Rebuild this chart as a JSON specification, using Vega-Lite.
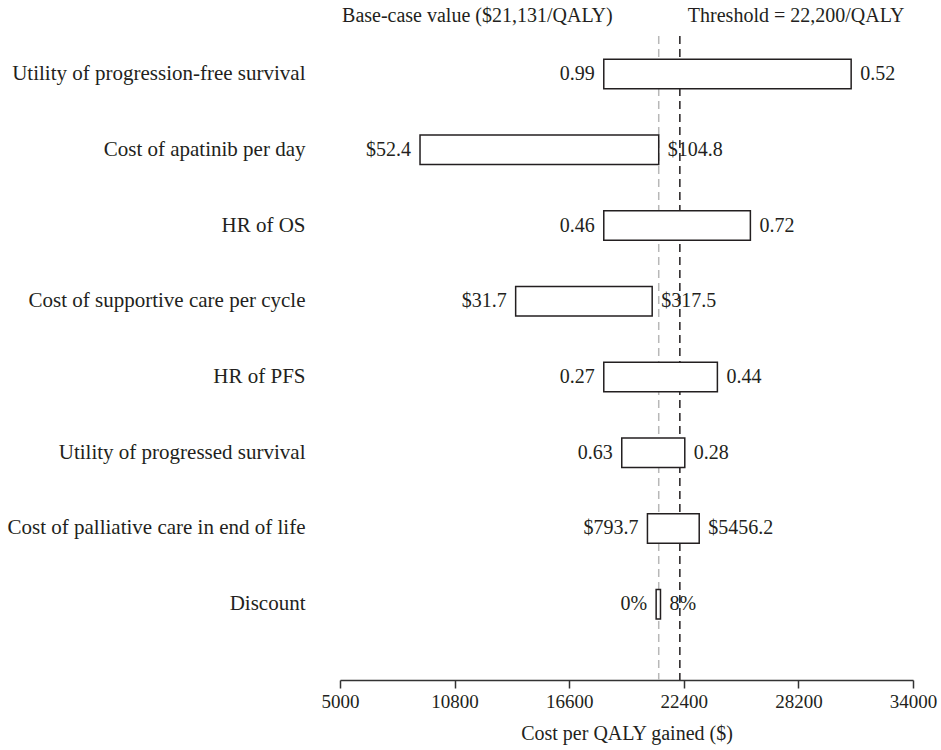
{
  "$schema": "https://vega.github.io/schema/vega-lite/v6.json",
  "width": 573,
  "height": 644,
  "autosize": {"type": "none"},
  "padding": {"left": 340, "top": 36, "right": 28, "bottom": 70},
  "background": "white",
  "config": {
    "view": {"stroke": null},
    "font": "Liberation Serif",
    "text": {"font": "Liberation Serif", "fontSize": 20, "color": "#231f20"},
    "axis": {"labelFont": "Liberation Serif", "titleFont": "Liberation Serif", "labelColor": "#231f20", "titleColor": "#231f20", "titleFontWeight": "normal"}
  },
  "datasets": {
    "params": [
      {"param": "Utility of progression-free survival", "low": 18350, "high": 30870, "lowLabel": "0.99", "highLabel": "0.52"},
      {"param": "Cost of apatinib per day", "low": 9050, "high": 21131, "lowLabel": "$52.4", "highLabel": "$104.8"},
      {"param": "HR of OS", "low": 18350, "high": 25770, "lowLabel": "0.46", "highLabel": "0.72"},
      {"param": "Cost of supportive care per cycle", "low": 13890, "high": 20800, "lowLabel": "$31.7", "highLabel": "$317.5"},
      {"param": "HR of PFS", "low": 18350, "high": 24100, "lowLabel": "0.27", "highLabel": "0.44"},
      {"param": "Utility of progressed survival", "low": 19260, "high": 22450, "lowLabel": "0.63", "highLabel": "0.28"},
      {"param": "Cost of palliative care in end of life", "low": 20560, "high": 23180, "lowLabel": "$793.7", "highLabel": "$5456.2"},
      {"param": "Discount", "low": 21000, "high": 21220, "lowLabel": "0%", "highLabel": "8%"}
    ],
    "refs": [
      {"kind": "base", "value": 21131, "label": "Base-case value ($21,131/QALY)"},
      {"kind": "threshold", "value": 22200, "label": "Threshold = 22,200/QALY"}
    ]
  },
  "layer": [
    {
      "data": {"name": "params"},
      "mark": {"type": "text", "align": "right", "baseline": "middle", "dx": -9},
      "encoding": {
        "y": {"field": "param", "type": "nominal", "sort": null,
          "scale": {"paddingInner": 0.61, "paddingOuter": 0.557, "align": 0.276},
          "axis": {"title": null, "domain": false, "ticks": false, "labelPadding": 35, "labelFontSize": 21, "labelLimit": 400}},
        "x": {"field": "low", "type": "quantitative",
          "scale": {"domain": [5000, 34000], "nice": false, "zero": false},
          "axis": {"title": "Cost per QALY gained ($)", "values": [5000, 10800, 16600, 22400, 28200, 34000], "grid": false,
            "labelFlush": false, "labelOverlap": false, "tickSize": 8, "tickWidth": 1.5, "tickColor": "#333333", "domainColor": "#333333", "domainWidth": 1.5,
            "labelFontSize": 19, "labelPadding": 4, "titleFontSize": 20, "titlePadding": 12, "format": "d"}},
        "text": {"field": "lowLabel"}
      }
    },
    {
      "data": {"name": "params"},
      "mark": {"type": "text", "align": "left", "baseline": "middle", "dx": 9},
      "encoding": {
        "y": {"field": "param", "type": "nominal", "sort": null},
        "x": {"field": "high", "type": "quantitative"},
        "text": {"field": "highLabel"}
      }
    },
    {
      "data": {"name": "refs"},
      "transform": [{"filter": "datum.kind == 'base'"}],
      "mark": {"type": "rule", "color": "#b8b8b8", "strokeWidth": 1.5, "strokeDash": [8, 5]},
      "encoding": {"x": {"field": "value", "type": "quantitative"}}
    },
    {
      "data": {"name": "refs"},
      "transform": [{"filter": "datum.kind == 'threshold'"}],
      "mark": {"type": "rule", "color": "#231f20", "strokeWidth": 1.5, "strokeDash": [8, 5]},
      "encoding": {"x": {"field": "value", "type": "quantitative"}}
    },
    {
      "data": {"name": "params"},
      "mark": {"type": "bar", "fill": "white", "stroke": "#231f20", "strokeWidth": 1.5},
      "encoding": {
        "y": {"field": "param", "type": "nominal", "sort": null},
        "x": {"field": "low", "type": "quantitative"},
        "x2": {"field": "high"}
      }
    },
    {
      "data": {"name": "refs"},
      "transform": [{"filter": "datum.kind == 'base'"}],
      "mark": {"type": "text", "baseline": "middle", "align": "right", "dy": -20, "dx": -46},
      "encoding": {
        "x": {"field": "value", "type": "quantitative"},
        "y": {"value": 0},
        "text": {"field": "label"}
      }
    },
    {
      "data": {"name": "refs"},
      "transform": [{"filter": "datum.kind == 'threshold'"}],
      "mark": {"type": "text", "baseline": "middle", "align": "left", "dy": -20, "dx": 8},
      "encoding": {
        "x": {"field": "value", "type": "quantitative"},
        "y": {"value": 0},
        "text": {"field": "label"}
      }
    }
  ]
}
